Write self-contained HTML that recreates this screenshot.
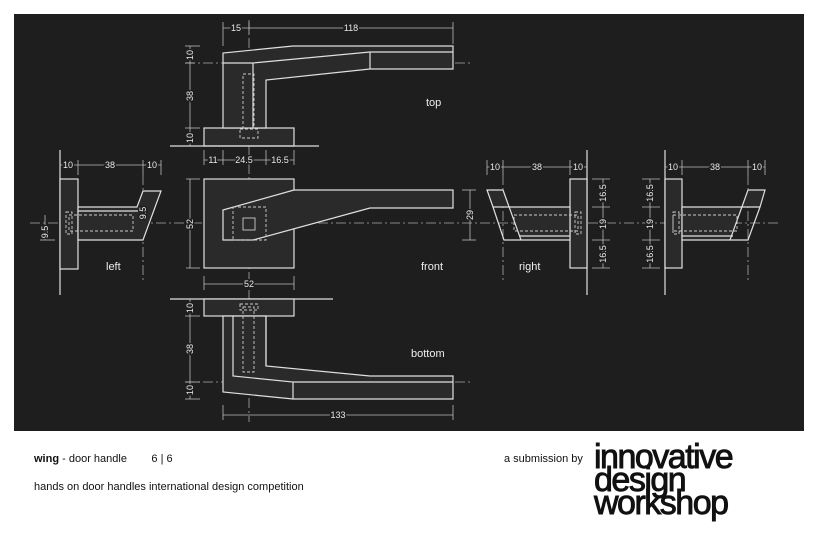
<!DOCTYPE html>
<html><head><meta charset="utf-8"><style>
html,body{margin:0;padding:0;background:#fff;width:818px;height:545px;overflow:hidden;font-family:"Liberation Sans",sans-serif}
svg{position:absolute;left:0;top:0}
.t{position:absolute;font-size:11px;color:#111;white-space:nowrap}
.logo{position:absolute;left:594px;top:446px;font-size:34px;font-weight:normal;-webkit-text-stroke:0.9px #111;letter-spacing:-1.5px;line-height:23px;color:#111}
</style></head><body>
<svg width="818" height="545" viewBox="0 0 818 545" font-family="Liberation Sans, sans-serif">
<rect x="14" y="14" width="790" height="417" fill="#1e1e1e"/>
<g stroke="#aaa" stroke-width="0.8" fill="none" stroke-dasharray="10 3 2 3">
<line x1="30" y1="223" x2="778" y2="223"/>
<line x1="185" y1="63" x2="472" y2="63"/>
<line x1="185" y1="382" x2="472" y2="382"/>
<line x1="249" y1="20" x2="249" y2="422"/>
<line x1="143" y1="175" x2="143" y2="282"/>
<line x1="503" y1="175" x2="503" y2="282"/>
<line x1="748" y1="175" x2="748" y2="282"/>
</g>
<g stroke="#e0e0e0" stroke-width="1.2" fill="#2a2a2a">
<rect x="204" y="128" width="90" height="18"/>
<polygon points="223,128 223,53 293,46 453,46 453,69 370,69 266,80 266,128"/>
<polyline fill="none" points="223,63 253,63 370,52 453,52"/>
<line x1="253" y1="63" x2="253" y2="128"/>
<line x1="370" y1="52" x2="370" y2="69"/>
<line x1="170" y1="146" x2="319" y2="146"/>
<rect x="204" y="179" width="90" height="89"/>
<polygon points="294,190 453,190 453,208 370,208 253,240 223,240 223,210"/>
<line x1="170" y1="299" x2="333" y2="299"/>
<rect x="204" y="299" width="90" height="17"/>
<polygon points="223,316 266,316 266,366 370,376 453,376 453,399 293,399 223,392"/>
<polyline fill="none" points="233,316 233,376 293,382 293,399"/>
<line x1="266" y1="366" x2="266" y2="316"/>
<line x1="293" y1="382" x2="453" y2="382"/>
<line x1="60" y1="150" x2="60" y2="295"/>
<rect x="60" y="179" width="18" height="90"/>
<polygon points="78,207 137,207 143,191 161,191 143,240 78,240"/>
<line x1="78" y1="211" x2="141" y2="211"/>
<line x1="587" y1="150" x2="587" y2="295"/>
<rect x="570" y="179" width="17" height="89"/>
<polygon points="570,207 493,207 487,190 503,190 521,240 570,240"/>
<polyline fill="none" points="493,207 504,240 521,240"/>
<line x1="519" y1="236" x2="570" y2="236"/>
<line x1="665" y1="150" x2="665" y2="295"/>
<rect x="665" y="179" width="17" height="89"/>
<polygon points="682,207 760,207 765,190 748,190 730,240 682,240"/>
<polyline fill="none" points="760,207 748,240 730,240"/>
<line x1="682" y1="236" x2="733" y2="236"/>
</g>
<g stroke="#ccc" stroke-width="0.9" fill="none" stroke-dasharray="3 2">
<rect x="243" y="74" width="11" height="54"/><rect x="240" y="129" width="18" height="9"/>
<rect x="233" y="207" width="33" height="33"/><rect x="243" y="218" width="12" height="12" stroke-dasharray="none"/>
<rect x="243" y="307" width="11" height="65"/><rect x="240" y="304" width="18" height="6"/>
<rect x="69" y="215" width="64" height="16"/><rect x="66" y="212" width="6" height="22"/>
<rect x="514" y="215" width="64" height="16"/><rect x="575" y="212" width="6" height="22"/>
<rect x="673" y="215" width="64" height="16"/><rect x="673" y="212" width="6" height="22"/>
</g>
<g stroke="#bbb" stroke-width="0.8" fill="none">
<line x1="223" y1="28" x2="453" y2="28"/><line x1="223" y1="22" x2="223" y2="46"/><line x1="249" y1="22" x2="249" y2="34"/><line x1="453" y1="22" x2="453" y2="44"/>
<line x1="204" y1="160" x2="294" y2="160"/><line x1="204" y1="150" x2="204" y2="165"/><line x1="223" y1="150" x2="223" y2="165"/><line x1="266" y1="150" x2="266" y2="165"/><line x1="294" y1="150" x2="294" y2="165"/>
<line x1="190" y1="46" x2="190" y2="146"/><line x1="185" y1="46" x2="200" y2="46"/><line x1="185" y1="63" x2="195" y2="63"/><line x1="185" y1="128" x2="200" y2="128"/>
<line x1="190" y1="179" x2="190" y2="268"/><line x1="186" y1="179" x2="200" y2="179"/><line x1="186" y1="268" x2="200" y2="268"/>
<line x1="204" y1="284" x2="294" y2="284"/><line x1="204" y1="276" x2="204" y2="290"/><line x1="294" y1="276" x2="294" y2="290"/>
<line x1="470" y1="190" x2="470" y2="240"/><line x1="462" y1="190" x2="476" y2="190"/><line x1="462" y1="240" x2="476" y2="240"/>
<line x1="190" y1="299" x2="190" y2="399"/><line x1="185" y1="316" x2="200" y2="316"/><line x1="185" y1="382" x2="200" y2="382"/><line x1="185" y1="399" x2="200" y2="399"/>
<line x1="223" y1="415" x2="453" y2="415"/><line x1="223" y1="405" x2="223" y2="420"/><line x1="453" y1="405" x2="453" y2="420"/>
<line x1="60" y1="165" x2="161" y2="165"/><line x1="78" y1="160" x2="78" y2="175"/><line x1="143" y1="160" x2="143" y2="175"/><line x1="161" y1="160" x2="161" y2="175"/>
<line x1="45" y1="215" x2="45" y2="240"/><line x1="40" y1="240" x2="55" y2="240"/>
<line x1="487" y1="167" x2="587" y2="167"/><line x1="487" y1="160" x2="487" y2="175"/><line x1="503" y1="160" x2="503" y2="175"/><line x1="570" y1="160" x2="570" y2="175"/>
<line x1="603" y1="179" x2="603" y2="268"/><line x1="592" y1="179" x2="610" y2="179"/><line x1="592" y1="207" x2="610" y2="207"/><line x1="592" y1="240" x2="610" y2="240"/><line x1="592" y1="268" x2="610" y2="268"/>
<line x1="665" y1="167" x2="765" y2="167"/><line x1="682" y1="160" x2="682" y2="175"/><line x1="748" y1="160" x2="748" y2="175"/><line x1="765" y1="160" x2="765" y2="175"/>
<line x1="650" y1="179" x2="650" y2="268"/><line x1="642" y1="179" x2="660" y2="179"/><line x1="642" y1="207" x2="660" y2="207"/><line x1="642" y1="240" x2="660" y2="240"/><line x1="642" y1="268" x2="660" y2="268"/>
</g>
<g fill="#e8e8e8" font-size="9" text-anchor="middle" stroke="#1e1e1e" stroke-width="3" paint-order="stroke">
<text x="236" y="31">15</text><text x="351" y="31">118</text>
<text x="213" y="163">11</text><text x="244" y="163">24.5</text><text x="280" y="163">16.5</text>
<text x="249" y="287">52</text><text x="338" y="418">133</text>
<text x="68" y="168">10</text><text x="110" y="168">38</text><text x="152" y="168">10</text>
<text x="495" y="170">10</text><text x="537" y="170">38</text><text x="578" y="170">10</text>
<text x="673" y="170">10</text><text x="715" y="170">38</text><text x="757" y="170">10</text>
<text transform="translate(193,55) rotate(-90)">10</text><text transform="translate(193,96) rotate(-90)">38</text><text transform="translate(193,138) rotate(-90)">10</text>
<text transform="translate(193,224) rotate(-90)">52</text><text transform="translate(473,215) rotate(-90)">29</text>
<text transform="translate(193,308) rotate(-90)">10</text><text transform="translate(193,349) rotate(-90)">38</text><text transform="translate(193,390) rotate(-90)">10</text>
<text transform="translate(48,232) rotate(-90)">9.5</text><text transform="translate(146,213) rotate(-90)">9.5</text>
<text transform="translate(606,193) rotate(-90)">16.5</text><text transform="translate(606,224) rotate(-90)">19</text><text transform="translate(606,254) rotate(-90)">16.5</text>
<text transform="translate(653,193) rotate(-90)">16.5</text><text transform="translate(653,224) rotate(-90)">19</text><text transform="translate(653,254) rotate(-90)">16.5</text>
</g>
<g fill="#eee" font-size="11">
<text x="426" y="106">top</text><text x="421" y="270">front</text><text x="411" y="357">bottom</text>
<text x="106" y="270">left</text><text x="519" y="270">right</text>
</g>
</svg>
<div class="t" style="left:34px;top:453px"><b>wing</b> - door handle &nbsp; &nbsp; &nbsp; &nbsp;6 | 6</div>
<div class="t" style="left:34px;top:481px">hands on door handles international design competition</div>
<div class="t" style="left:504px;top:453px">a submission by</div>
<div class="logo">innovative<br>design<br>workshop</div>
</body></html>
